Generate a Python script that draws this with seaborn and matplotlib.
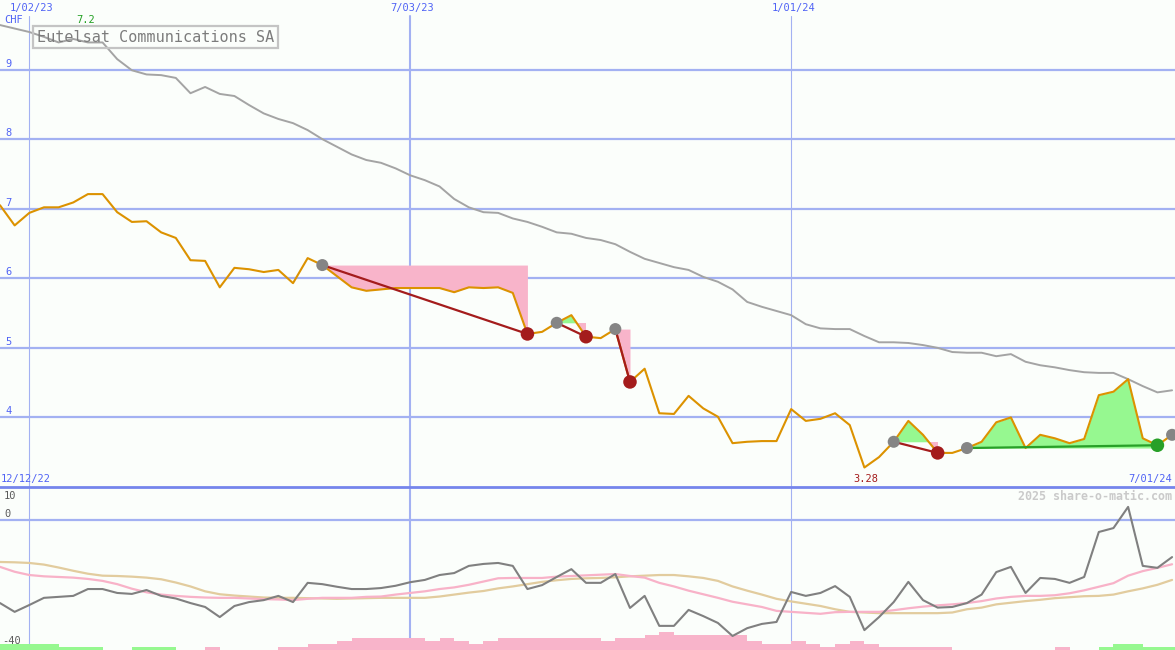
import numpy as np
import pandas as pd
import matplotlib
matplotlib.use("Agg")
import matplotlib.pyplot as plt
import matplotlib.transforms as mtransforms
import seaborn as sns

# ---------------- data ----------------
start_date = "2022-12-19"
price = [7.05, 6.76, 6.94, 7.02, 7.02, 7.09, 7.21, 7.21, 6.95, 6.81,
         6.82, 6.66, 6.58, 6.26, 6.25, 5.87, 6.15, 6.13, 6.09, 6.12,
         5.93, 6.29, 6.19, 6.03, 5.87, 5.82, 5.84, 5.86, 5.86, 5.86,
         5.86, 5.80, 5.87, 5.86, 5.87, 5.79, 5.20, 5.23, 5.36, 5.47,
         5.16, 5.14, 5.27, 4.51, 4.70, 4.06, 4.05, 4.31, 4.13, 4.01,
         3.63, 3.65, 3.66, 3.66, 4.12, 3.95, 3.98, 4.06, 3.89, 3.28,
         3.43, 3.65, 3.95, 3.75, 3.49, 3.49, 3.56, 3.65, 3.93, 4.00,
         3.56, 3.75, 3.70, 3.63, 3.69, 4.32, 4.37, 4.55, 3.70, 3.60,
         3.75]
ma_long = [9.64, 9.59, 9.54, 9.47, 9.39, 9.44, 9.39, 9.39, 9.15, 8.99,
           8.93, 8.92, 8.88, 8.66, 8.75, 8.65, 8.62, 8.49, 8.37, 8.29,
           8.23, 8.13, 8.00, 7.89, 7.78, 7.70, 7.66, 7.58, 7.48, 7.41,
           7.32, 7.14, 7.02, 6.95, 6.94, 6.86, 6.81, 6.74, 6.66, 6.64,
           6.58, 6.55, 6.49, 6.38, 6.28, 6.22, 6.16, 6.12, 6.02, 5.95,
           5.84, 5.66, 5.59, 5.53, 5.47, 5.34, 5.28, 5.27, 5.27, 5.17,
           5.08, 5.08, 5.07, 5.04, 5.00, 4.94, 4.93, 4.93, 4.88, 4.91,
           4.80, 4.75, 4.72, 4.68, 4.65, 4.64, 4.64, 4.55, 4.45, 4.36,
           4.39]
osc = [-25.6, -28.3, -26.2, -24.0, -23.7, -23.4, -21.3, -21.3, -22.5, -22.8,
       -21.6, -23.4, -24.2, -25.6, -26.8, -29.9, -26.5, -25.3, -24.7, -23.4,
       -25.3, -19.4, -19.8, -20.6, -21.3, -21.3, -21.0, -20.3, -19.2, -18.5,
       -17.0, -16.4, -14.2, -13.6, -13.3, -14.2, -21.3, -20.1, -17.6, -15.2,
       -19.4, -19.4, -16.7, -27.1, -23.4, -32.6, -32.6, -27.7, -29.6, -31.7,
       -35.7, -33.3, -32.0, -31.4, -22.2, -23.4, -22.5, -20.4, -23.7, -33.9,
       -29.9, -25.3, -19.1, -24.7, -27.0, -26.8, -25.6, -23.0, -16.1, -14.5,
       -22.5, -17.9, -18.2, -19.4, -17.6, -3.8, -2.6, 3.9, -14.2, -14.8,
       -11.5]
osc_fast = [-14.5, -16.0, -17.0, -17.4, -17.6, -17.8, -18.2, -18.8, -19.8, -21.2,
            -22.3, -23.0, -23.4, -23.7, -23.9, -24.0, -24.0, -24.2, -24.4, -24.5,
            -24.7, -24.3, -24.0, -24.0, -24.0, -23.7, -23.6, -23.0, -22.5, -22.0,
            -21.3, -20.8, -20.0, -19.0, -18.0, -17.9, -17.9, -17.9, -17.5, -17.3,
            -17.1, -16.9, -16.7, -17.3, -17.8, -19.4, -20.5, -21.8, -22.9, -24.0,
            -25.2, -26.0, -26.8, -28.0, -28.3, -28.6, -28.9, -28.4, -28.3, -28.3,
            -28.3, -27.8, -27.2, -26.7, -26.3, -26.0, -25.6, -25.0, -24.2, -23.7,
            -23.4, -23.4, -23.2, -22.6, -21.7, -20.6, -19.5, -17.2, -15.8, -14.8,
            -13.7]
osc_slow = [-13.0, -13.1, -13.3, -13.8, -14.7, -15.7, -16.6, -17.2, -17.3, -17.5,
            -17.8, -18.3, -19.3, -20.5, -22.0, -22.9, -23.3, -23.6, -23.9, -24.0,
            -24.0, -24.1, -24.2, -24.3, -24.2, -24.1, -24.0, -24.0, -24.0, -24.0,
            -23.6, -23.0, -22.4, -21.9, -21.1, -20.5, -19.8, -19.1, -18.6, -18.2,
            -18.0, -17.9, -17.7, -17.4, -17.2, -17.0, -17.0, -17.4, -17.9, -18.8,
            -20.5, -21.8, -23.0, -24.3, -25.1, -25.8, -26.5, -27.5, -28.3, -28.5,
            -28.7, -28.7, -28.7, -28.7, -28.7, -28.5, -27.5, -27.0, -26.0, -25.5,
            -25.0, -24.6, -24.1, -23.8, -23.5, -23.4, -23.0, -22.0, -21.1, -20.0,
            -18.5]
signal_bars = [2, 2, 2, 2, 1, 1, 1, 0, 0, 1,
               1, 1, 0, 0, -1, 0, 0, 0, 0, -1,
               -1, -2, -2, -3, -4, -4, -4, -4, -4, -3,
               -4, -3, -2, -3, -4, -4, -4, -4, -4, -4,
               -4, -3, -4, -4, -5, -6, -5, -5, -5, -5,
               -5, -3, -2, -2, -3, -2, -1, -2, -3, -2,
               -1, -1, -1, -1, -1, 0, 0, 0, 0, 0,
               0, 0, -1, 0, 0, 1, 2, 2, 1, 1,
               1]
buy_idx = [22, 38, 42, 61, 66, 80]
exit_idx = [36, 40, 43, 64, 79]
exit_win = [False, False, False, False, True]
date_marks = ["2023-01-02", "2023-07-03", "2024-01-01"]
date_labels = ["1/02/23", "7/03/23", "1/01/24"]
price_ticks = [4, 5, 6, 7, 8, 9]
osc_ticks = [10, 0, -40]
title = "Eutelsat Communications SA"
currency = "CHF"
first_label = "12/12/22"
last_label = "7/01/24"
credit = "2025 share-o-matic.com"

# ---------------- frame ----------------
dates = pd.date_range(start_date, periods=len(price), freq="7D")
df = pd.DataFrame({"date": dates, "price": price, "ma": ma_long,
                   "osc": osc, "fast": osc_fast, "slow": osc_slow,
                   "bars": signal_bars})

sns.set_theme(style="white")
plt.rcParams["font.family"] = ["DejaVu Sans Mono", "DejaVu Sans"]

BG = "#fbfefb"
GRID = "#a3b1f2"
SEP = "#7585ec"
BLUE_TXT = "#5063f5"
ORANGE = "#dc9200"
GRAY_MA = "#a4a4a4"
PINK = "#f8b4ca"
GREEN = "#96f890"
DARKRED = "#a41c1c"
DKGREEN = "#28a028"

fig = plt.figure(figsize=(11.75, 6.5), dpi=100, facecolor=BG)
H = 650.0
ax = fig.add_axes([0, 163 / H, 1, 487 / H], facecolor=BG)
ax2 = fig.add_axes([0, 0, 1, 163 / H], facecolor=BG, sharex=ax)

x0 = dates[0]
x1 = dates[0] + pd.Timedelta(days=7 * 80.2)
ax.set_xlim(x0, x1)
ax.set_ylim(3, 10)
ax2.set_ylim(-40, 10)

for a in (ax, ax2):
    for s in a.spines.values():
        s.set_visible(False)
    a.tick_params(length=0, labelleft=False, labelbottom=False)
    a.set_xlabel("")
    a.set_ylabel("")

# grid
ax.set_yticks(price_ticks)
ax.yaxis.grid(True, color=GRID, linewidth=1.6)
ax.set_axisbelow(True)
ax2.set_yticks([0])
ax2.yaxis.grid(True, color=GRID, linewidth=1.6)
vl_w = [0.8, 1.5, 0.8]
for d, w in zip(date_marks, vl_w):
    ax.axvline(pd.Timestamp(d), ymax=(487 - 16) / 487, color=GRID, lw=w, zorder=0.5)
    ax2.axvline(pd.Timestamp(d), color=GRID, lw=w, zorder=0.5)
ax2.spines["top"].set_visible(True)
ax2.spines["top"].set_color(SEP)
ax2.spines["top"].set_linewidth(2.0)

# trade fills
p = np.array(price)
for b, s in zip(buy_idx, exit_idx):
    lvl = p[b]
    xs = dates[b:s + 1]
    ys = p[b:s + 1]
    ax.fill_between(xs, lvl, ys, where=ys >= lvl, interpolate=True,
                    color=GREEN, lw=0, zorder=1)
    ax.fill_between(xs, lvl, ys, where=ys <= lvl, interpolate=True,
                    color=PINK, lw=0, zorder=1)

# lines
sns.lineplot(data=df, x="date", y="ma", ax=ax, color=GRAY_MA, lw=1.4, zorder=2)
sns.lineplot(data=df, x="date", y="price", ax=ax, color=ORANGE, lw=1.5, zorder=3)

for b, s, w in zip(buy_idx, exit_idx, exit_win):
    ax.plot([dates[b], dates[s]], [p[b], p[s]],
            color=DKGREEN if w else DARKRED, lw=1.6, zorder=4)

sns.scatterplot(x=dates[buy_idx], y=p[buy_idx], ax=ax, s=75, color="#858585",
                edgecolor="none", zorder=5)
loss = [s for s, w in zip(exit_idx, exit_win) if not w]
win = [s for s, w in zip(exit_idx, exit_win) if w]
sns.scatterplot(x=dates[loss], y=p[loss], ax=ax, s=95, color=DARKRED,
                edgecolor="none", zorder=5)
sns.scatterplot(x=dates[win], y=p[win], ax=ax, s=95, color=DKGREEN,
                edgecolor="none", zorder=5)
ax.set_xlabel("")
ax.set_ylabel("")

# lower panel
bars = np.array(signal_bars, dtype=float)
bar_unit = 0.93
ax2.bar(dates, np.abs(bars) * bar_unit, bottom=-40, width=7, align="edge",
        color=[GREEN if v > 0 else PINK for v in bars], lw=0, zorder=1)
sns.lineplot(data=df, x="date", y="slow", ax=ax2, color="#e2cc9e", lw=1.6, zorder=2)
sns.lineplot(data=df, x="date", y="fast", ax=ax2, color="#f8b2c8", lw=1.6, zorder=2)
sns.lineplot(data=df, x="date", y="osc", ax=ax2, color="#808080", lw=1.5, zorder=3)
ax2.set_xlabel("")
ax2.set_ylabel("")
ax2.set_xlim(x0, x1)

# ---------------- text ----------------
def px(a, dx, dy):
    return mtransforms.offset_copy(a, fig=fig, x=dx * 0.72, y=dy * 0.72, units="points")

# price tick labels
for t in price_ticks:
    ax.text(0, t, str(t), transform=px(ax.get_yaxis_transform(), 5, 6),
            ha="left", va="center", fontsize=7.5, color=BLUE_TXT)
ax.text(0, 1, currency, transform=px(ax.transAxes, 4, -20),
        ha="left", va="center", fontsize=7.5, color=BLUE_TXT)

# date labels at top
for d, lab in zip(date_marks, date_labels):
    ax.text(pd.Timestamp(d), 1, lab, transform=px(ax.get_xaxis_transform(), 2, -8),
            ha="center", va="center", fontsize=7.5, color=BLUE_TXT)

# high label
hi = int(np.argmax(p))
ax.text(dates[hi], 1, f"{p[hi]:.1f}", transform=px(ax.get_xaxis_transform(), -2, -20),
        ha="center", va="center", fontsize=7.5, color="#22a022")
# low label
lo = int(np.argmin(p))
ax.text(dates[lo], 0, f"{p[lo]:.2f}", transform=px(ax.get_xaxis_transform(), 1, 8),
        ha="center", va="center", fontsize=7.5, color=DARKRED)

ax.text(0, 0, first_label, transform=px(ax.transAxes, 1, 8),
        ha="left", va="center", fontsize=7.5, color=BLUE_TXT)
ax.text(1, 0, last_label, transform=px(ax.transAxes, -3, 8),
        ha="right", va="center", fontsize=7.5, color=BLUE_TXT)

# title box
ax.text(0, 1, title, transform=px(ax.transAxes, 37, -37),
        ha="left", va="center", fontsize=10.9, color="#7c7c7c",
        bbox=dict(boxstyle="square,pad=0.24", facecolor="none",
                  edgecolor="#c4c4c4", linewidth=1.6))

# credit
ax2.text(1, 1, credit, transform=px(ax2.transAxes, -3, -9),
         ha="right", va="center", fontsize=8.4, fontweight="bold", color="#cacaca")

# lower tick labels
lower_off = {10: -9, 0: 6, -40: 9}
for t in osc_ticks:
    ax2.text(0, t, str(t), transform=px(ax2.get_yaxis_transform(), 4 if t != -40 else 2, lower_off[t]),
             ha="left", va="center", fontsize=7.5, color="#5a5a5a")

fig.savefig("out.png", dpi=100, facecolor=BG)
